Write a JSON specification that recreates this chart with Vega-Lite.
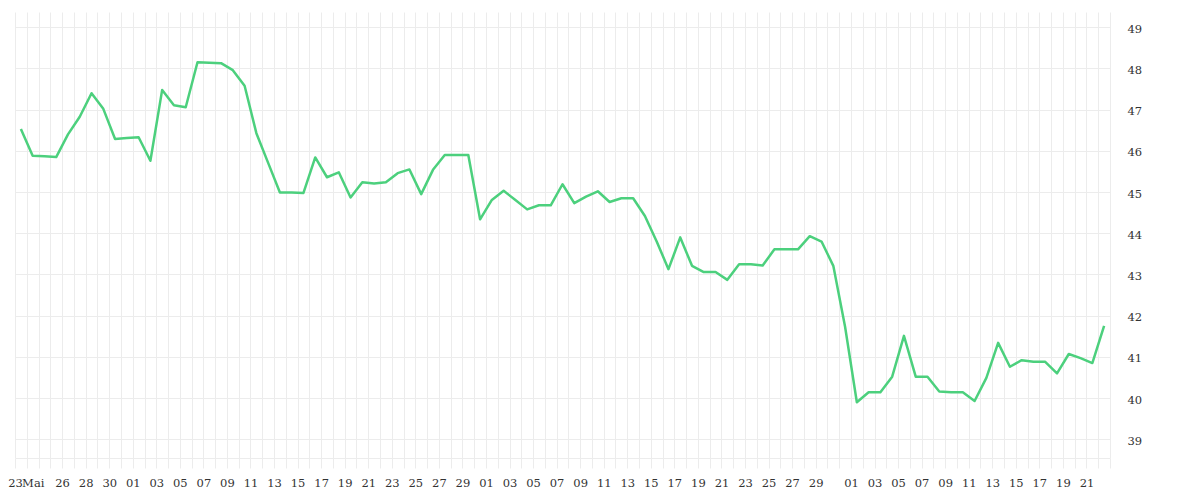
{
  "$schema": "https://vega.github.io/schema/vega-lite/v6.json",
  "width": 1095,
  "height": 446,
  "autosize": {"type": "none"},
  "padding": {"left": 15, "top": 12, "right": 90, "bottom": 42},
  "background": "#ffffff",
  "config": {
    "view": {"stroke": null},
    "axis": {"labelFont": "DejaVu Serif", "labelFontSize": 11.5, "labelColor": "#333333"}
  },
  "data": {
    "values": [
      {"date": "2025-05-22", "value": 46.53},
      {"date": "2025-05-23", "value": 45.88},
      {"date": "2025-05-24", "value": 45.87},
      {"date": "2025-05-25", "value": 45.85},
      {"date": "2025-05-26", "value": 46.40},
      {"date": "2025-05-27", "value": 46.83},
      {"date": "2025-05-28", "value": 47.40},
      {"date": "2025-05-29", "value": 47.02},
      {"date": "2025-05-30", "value": 46.29},
      {"date": "2025-05-31", "value": 46.31},
      {"date": "2025-06-01", "value": 46.33},
      {"date": "2025-06-02", "value": 45.76},
      {"date": "2025-06-03", "value": 47.48},
      {"date": "2025-06-04", "value": 47.11},
      {"date": "2025-06-05", "value": 47.06},
      {"date": "2025-06-06", "value": 48.15},
      {"date": "2025-06-07", "value": 48.14},
      {"date": "2025-06-08", "value": 48.13},
      {"date": "2025-06-09", "value": 47.96},
      {"date": "2025-06-10", "value": 47.58},
      {"date": "2025-06-11", "value": 46.43},
      {"date": "2025-06-12", "value": 45.71},
      {"date": "2025-06-13", "value": 44.99},
      {"date": "2025-06-14", "value": 44.99},
      {"date": "2025-06-15", "value": 44.98},
      {"date": "2025-06-16", "value": 45.84},
      {"date": "2025-06-17", "value": 45.36},
      {"date": "2025-06-18", "value": 45.48},
      {"date": "2025-06-19", "value": 44.87},
      {"date": "2025-06-20", "value": 45.24},
      {"date": "2025-06-21", "value": 45.21},
      {"date": "2025-06-22", "value": 45.24},
      {"date": "2025-06-23", "value": 45.46},
      {"date": "2025-06-24", "value": 45.55},
      {"date": "2025-06-25", "value": 44.95},
      {"date": "2025-06-26", "value": 45.54},
      {"date": "2025-06-27", "value": 45.90},
      {"date": "2025-06-28", "value": 45.90},
      {"date": "2025-06-29", "value": 45.90},
      {"date": "2025-06-30", "value": 44.34},
      {"date": "2025-07-01", "value": 44.81},
      {"date": "2025-07-02", "value": 45.03},
      {"date": "2025-07-03", "value": 44.81},
      {"date": "2025-07-04", "value": 44.58},
      {"date": "2025-07-05", "value": 44.68},
      {"date": "2025-07-06", "value": 44.68},
      {"date": "2025-07-07", "value": 45.19},
      {"date": "2025-07-08", "value": 44.73},
      {"date": "2025-07-09", "value": 44.89},
      {"date": "2025-07-10", "value": 45.02},
      {"date": "2025-07-11", "value": 44.76},
      {"date": "2025-07-12", "value": 44.85},
      {"date": "2025-07-13", "value": 44.85},
      {"date": "2025-07-14", "value": 44.42},
      {"date": "2025-07-15", "value": 43.80},
      {"date": "2025-07-16", "value": 43.13},
      {"date": "2025-07-17", "value": 43.90},
      {"date": "2025-07-18", "value": 43.21},
      {"date": "2025-07-19", "value": 43.06},
      {"date": "2025-07-20", "value": 43.06},
      {"date": "2025-07-21", "value": 42.87},
      {"date": "2025-07-22", "value": 43.25},
      {"date": "2025-07-23", "value": 43.25},
      {"date": "2025-07-24", "value": 43.22},
      {"date": "2025-07-25", "value": 43.61},
      {"date": "2025-07-26", "value": 43.61},
      {"date": "2025-07-27", "value": 43.61},
      {"date": "2025-07-28", "value": 43.93},
      {"date": "2025-07-29", "value": 43.80},
      {"date": "2025-07-30", "value": 43.21},
      {"date": "2025-07-31", "value": 41.73},
      {"date": "2025-08-01", "value": 39.90},
      {"date": "2025-08-02", "value": 40.14},
      {"date": "2025-08-03", "value": 40.14},
      {"date": "2025-08-04", "value": 40.52},
      {"date": "2025-08-05", "value": 41.51},
      {"date": "2025-08-06", "value": 40.52},
      {"date": "2025-08-07", "value": 40.52},
      {"date": "2025-08-08", "value": 40.16},
      {"date": "2025-08-09", "value": 40.14},
      {"date": "2025-08-10", "value": 40.14},
      {"date": "2025-08-11", "value": 39.93},
      {"date": "2025-08-12", "value": 40.49},
      {"date": "2025-08-13", "value": 41.34},
      {"date": "2025-08-14", "value": 40.76},
      {"date": "2025-08-15", "value": 40.92},
      {"date": "2025-08-16", "value": 40.88},
      {"date": "2025-08-17", "value": 40.88},
      {"date": "2025-08-18", "value": 40.60},
      {"date": "2025-08-19", "value": 41.07},
      {"date": "2025-08-20", "value": 40.97},
      {"date": "2025-08-21", "value": 40.85},
      {"date": "2025-08-22", "value": 41.75}
    ]
  },
  "mark": {"type": "line", "color": "#4cd07d", "strokeWidth": 2.5, "strokeJoin": "round", "clip": true},
  "encoding": {
    "x": {
      "field": "date",
      "type": "temporal",
      "timeUnit": "utcyearmonthdate",
      "bandPosition": 0.5,
      "scale": {
        "type": "utc",
        "domain": [
          {"year": 2025, "month": 5, "date": 22, "utc": true},
          {"year": 2025, "month": 8, "date": 23, "utc": true}
        ],
        "nice": false
      },
      "axis": {
        "title": null,
        "orient": "bottom",
        "tickCount": {"interval": "day", "step": 1},
        "grid": true,
        "gridColor": "#ececec",
        "gridWidth": 1,
        "ticks": true,
        "tickSize": 10,
        "tickColor": "#ececec",
        "domain": true,
        "domainColor": "#ececec",
        "labelPadding": 9,
        "labelOverlap": false,
        "labelFlush": false,
        "labelOffset": {"condition": {"test": "utcmonth(datum.value)==4 && utcdate(datum.value)==23", "value": 6}, "value": 0},
        "labelExpr": "(utcmonth(datum.value)==4 && utcdate(datum.value)==22) ? '23' : (utcmonth(datum.value)==4 && utcdate(datum.value)==23) ? 'Mai' : (utcmonth(datum.value)==4) ? ((utcdate(datum.value)%2==0 && utcdate(datum.value)>=26) ? utcFormat(datum.value,'%d') : '') : (utcmonth(datum.value)==7 && utcdate(datum.value)>21) ? '' : ((utcdate(datum.value)%2==1 && utcdate(datum.value)<31) ? utcFormat(datum.value,'%d') : '')"
      }
    },
    "y": {
      "field": "value",
      "type": "quantitative",
      "scale": {"domain": [38.546, 49.371], "nice": false, "zero": false},
      "axis": {
        "title": null,
        "orient": "right",
        "values": [39, 40, 41, 42, 43, 44, 45, 46, 47, 48, 49],
        "grid": true,
        "gridColor": "#ececec",
        "ticks": false,
        "tickSize": 0,
        "domain": false,
        "labelPadding": 17,
        "labelAlign": "left",
        "labelOffset": 2
      }
    }
  }
}
